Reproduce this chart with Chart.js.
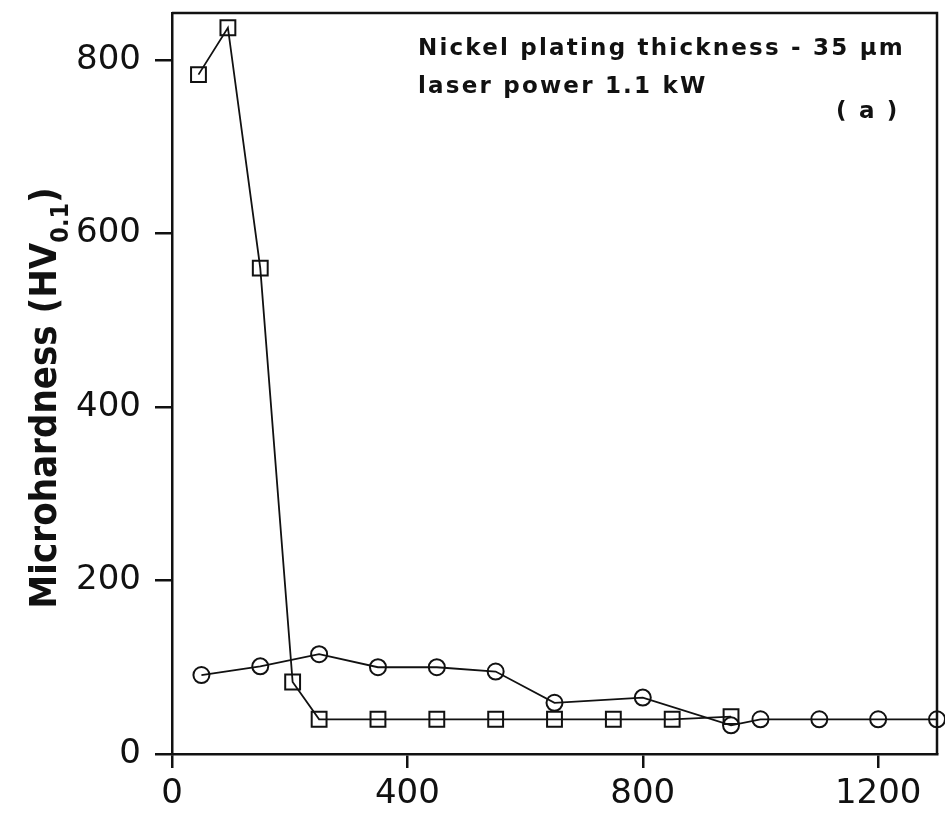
<!DOCTYPE html>
<html>
<head>
<meta charset="utf-8">
<script src="https://cdn.jsdelivr.net/npm/chart.js@4"></script>
<style>
html,body{margin:0;padding:0;background:#fff;}
#wrap{width:945px;height:814px;}
</style>
</head>
<body>
<div id="wrap"><canvas id="c" width="945" height="814"></canvas></div>
<script>
// Depth / distance values (x) and microhardness (y)
const squareX = [45, 95, 150, 205, 250, 350, 450, 550, 650, 750, 850, 950];
const squareY = [783, 837, 560, 83, 40, 40, 40, 40, 40, 40, 40, 43];
const circleX = [50, 150, 250, 350, 450, 550, 650, 800, 950, 1000, 1100, 1200, 1300];
const circleY = [91, 101, 115, 100, 100, 95, 59, 65, 33, 40, 40, 40, 40];
const xTicks = [0, 400, 800, 1200];
const yTicks = [0, 200, 400, 600, 800];
const yTitleMain = "Microhardness (HV";
const yTitleSub = "0.1";
const yTitleEnd = ")";
const noteLine1 = "Nickel plating thickness - 35 \u00B5m";
const noteLine2 = "laser power 1.1 kW";
const noteTag = "( a )";

const toPts = (xs, ys) => xs.map((x, i) => ({x: x, y: ys[i]}));

const framePlugin = {
  id: 'frame',
  afterDraw(chart) {
    const ctx = chart.ctx, a = chart.chartArea;
    ctx.save();
    ctx.strokeStyle = '#111';
    ctx.lineWidth = 2.5;
    ctx.beginPath();
    ctx.moveTo(a.left, a.top);
    ctx.lineTo(a.right, a.top);
    ctx.lineTo(a.right, a.bottom);
    ctx.stroke();

    // annotation text
    ctx.fillStyle = '#111';
    ctx.font = 'bold 23px "DejaVu Sans"';
    ctx.textBaseline = 'alphabetic';
    ctx.textAlign = 'left';
    ctx.letterSpacing = '2.2px';
    ctx.fillText(noteLine1, 418, 55);
    ctx.fillText(noteLine2, 418, 93);
    ctx.fillText(noteTag, 836, 118);
    ctx.letterSpacing = '0px';

    // rotated y title with subscript
    const mainFont = 'bold 38px "DejaVu Sans Condensed"';
    const subFont = 'bold 25px "DejaVu Sans Condensed"';
    ctx.font = mainFont;
    const w1 = ctx.measureText(yTitleMain).width;
    const w3 = ctx.measureText(yTitleEnd).width;
    ctx.font = subFont;
    const w2 = ctx.measureText(yTitleSub).width;
    const total = w1 + w2 + w3;
    const cy = 398, bx = 56;
    ctx.translate(bx, cy);
    ctx.rotate(-Math.PI / 2);
    let sx = -total / 2;
    ctx.font = mainFont;
    ctx.fillText(yTitleMain, sx, 0);
    sx += w1;
    ctx.font = subFont;
    ctx.fillText(yTitleSub, sx, 12);
    sx += w2;
    ctx.font = mainFont;
    ctx.fillText(yTitleEnd, sx, 0);
    ctx.restore();
  }
};

new Chart(document.getElementById('c'), {
  type: 'scatter',
  data: {
    datasets: [
      {
        label: 'squares',
        data: toPts(squareX, squareY),
        showLine: true,
        borderColor: '#111',
        borderWidth: 1.8,
        tension: 0,
        pointStyle: 'rect',
        pointRadius: 10.5,
        pointBorderWidth: 2,
        pointBorderColor: '#111',
        pointBackgroundColor: 'rgba(0,0,0,0)',
        clip: false
      },
      {
        label: 'circles',
        data: toPts(circleX, circleY),
        showLine: true,
        borderColor: '#111',
        borderWidth: 1.8,
        tension: 0,
        pointStyle: 'circle',
        pointRadius: 8,
        pointBorderWidth: 2,
        pointBorderColor: '#111',
        pointBackgroundColor: 'rgba(0,0,0,0)',
        clip: false
      }
    ]
  },
  options: {
    responsive: false,
    animation: false,
    devicePixelRatio: 1,
    layout: {autoPadding: false, padding: {top: 13, right: 8, left: 0, bottom: 0}},
    plugins: {legend: {display: false}, tooltip: {enabled: false}},
    scales: {
      x: {
        type: 'linear',
        min: 0, max: 1300,
        afterBuildTicks: s => { s.ticks = xTicks.map(v => ({value: v})); },
        afterFit: s => { s.height = 60; s.paddingLeft = 0; s.paddingRight = 0; },
        border: {display: true, color: '#111', width: 2.5},
        grid: {display: true, drawOnChartArea: false, drawTicks: true, tickLength: 14, color: '#111', lineWidth: 2.5},
        ticks: {color: '#111', font: {family: 'DejaVu Sans', size: 34}, padding: 6, maxRotation: 0, callback: v => String(v)}
      },
      y: {
        type: 'linear',
        min: 0, max: 854,
        afterBuildTicks: s => { s.ticks = yTicks.map(v => ({value: v})); },
        afterFit: s => { s.width = 172; s.paddingTop = 0; s.paddingBottom = 0; },
        border: {display: true, color: '#111', width: 2.5},
        grid: {display: true, drawOnChartArea: false, drawTicks: true, tickLength: 17, color: '#111', lineWidth: 2.5},
        ticks: {color: '#111', font: {family: 'DejaVu Sans', size: 34}, padding: 14, callback: v => String(v)}
      }
    }
  },
  plugins: [framePlugin]
});
</script>
</body>
</html>
